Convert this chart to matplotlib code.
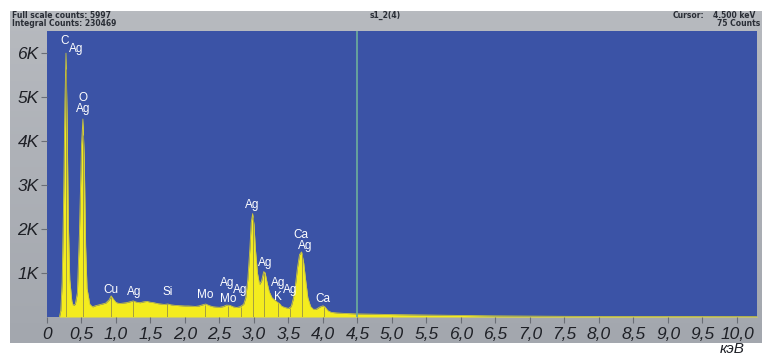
import numpy as np
import matplotlib
matplotlib.use("Agg")
from matplotlib import pyplot as plt

# spectrum (energy in keV, counts)
energy = [0.18, 0.20, 0.22, 0.24, 0.26, 0.275, 0.29, 0.31, 0.33, 0.36, 0.38, 0.41,
          0.44, 0.47, 0.50, 0.52, 0.54, 0.56, 0.58, 0.62, 0.66, 0.70, 0.75, 0.80,
          0.85, 0.90, 0.93, 0.96, 1.00, 1.05, 1.10, 1.15, 1.20, 1.25, 1.30, 1.35,
          1.40, 1.45, 1.50, 1.55, 1.60, 1.65, 1.70, 1.75, 1.80, 1.85, 1.90, 1.95,
          2.00, 2.05, 2.10, 2.15, 2.20, 2.25, 2.30, 2.35, 2.40, 2.45, 2.50, 2.55,
          2.60, 2.65, 2.70, 2.75, 2.80, 2.85, 2.88, 2.91, 2.94, 2.96, 2.98, 3.00,
          3.02, 3.05, 3.08, 3.11, 3.14, 3.16, 3.19, 3.22, 3.26, 3.30, 3.34, 3.37,
          3.40, 3.45, 3.50, 3.54, 3.57, 3.60, 3.63, 3.66, 3.69, 3.72, 3.75, 3.78,
          3.82, 3.86, 3.90, 3.95, 4.00, 4.03, 4.07, 4.12, 4.20, 4.30, 4.40, 4.50,
          4.70, 5.00, 5.50, 6.00, 6.50, 7.00, 7.50, 8.00, 9.00, 10.30]
counts = [0, 150, 800, 2600, 4900, 5997, 4600, 2100, 850, 360, 260, 290,
          550, 1900, 3900, 4500, 3600, 1600, 650, 290, 230, 255, 275, 295,
          315, 390, 480, 410, 330, 305, 315, 325, 345, 365, 335, 325,
          345, 355, 335, 325, 305, 295, 285, 295, 275, 265, 260, 255,
          250, 250, 245, 240, 250, 275, 295, 260, 235, 225, 220, 235,
          270, 265, 230, 215, 235, 290, 440, 850, 1550, 2150, 2350, 2100,
          1550, 1000, 740, 820, 1030, 1010, 780, 580, 440, 385, 335, 305,
          245, 215, 195, 240, 420, 720, 1120, 1420, 1480, 1230, 820, 440,
          240, 175, 175, 225, 255, 225, 145, 105, 92, 82, 76, 70,
          65, 55, 45, 35, 25, 20, 15, 12, 10, 8]

# element marker lines (keV)
marker_e = [0.277, 0.525, 0.93, 1.25, 1.74, 2.29, 2.62, 2.81, 2.98, 3.15, 3.35, 3.52, 3.69, 4.01]

# peak labels: text, energy, counts
labels = [("C", 0.25, 6270), ("Ag", 0.42, 6100), ("O", 0.52, 4980), ("Ag", 0.52, 4730),
          ("Cu", 0.93, 610), ("Ag", 1.26, 570), ("Si", 1.75, 570), ("Mo", 2.30, 500),
          ("Ag", 2.61, 770), ("Mo", 2.62, 410), ("Ag", 2.80, 610), ("Ag", 2.98, 2545),
          ("Ag", 3.16, 1230), ("Ag", 3.35, 770), ("K", 3.35, 455), ("Ag", 3.52, 610),
          ("Ca", 3.68, 1860), ("Ag", 3.74, 1610), ("Ca", 4.00, 410)]

xticks = [0, 0.5, 1.0, 1.5, 2.0, 2.5, 3.0, 3.5, 4.0, 4.5, 5.0, 5.5, 6.0, 6.5,
          7.0, 7.5, 8.0, 8.5, 9.0, 9.5, 10.0]
xticklabels = ["0"] + [f"{v:.1f}".replace(".", ",") for v in xticks[1:]]
yticks = [1000, 2000, 3000, 4000, 5000, 6000]
yticklabels = ["1K", "2K", "3K", "4K", "5K", "6K"]

W, H = 762, 355
fig = plt.figure(figsize=(W / 100, H / 100), dpi=100, facecolor="white")

# grey panel behind everything
bg = fig.add_axes([10 / W, 12 / H, 752 / W, 332 / H])
grad = np.linspace(0, 1, 100)[:, None]
bg.imshow(grad, aspect="auto", cmap=matplotlib.colors.LinearSegmentedColormap.from_list(
    "g", ["#b7babf", "#a3a7ae"]), extent=[0, 1, 0, 1], origin="upper")
bg.set_axis_off()

hdr = dict(fontsize=5.5, fontweight="bold", color="#2a2e36", family="DejaVu Sans")
fig.text(12 / W, 1 - 15 / H, "Full scale counts: 5997", va="center", **hdr)
fig.text(12 / W, 1 - 24 / H, "Integral Counts: 230469", va="center", **hdr)
fig.text(385 / W, 1 - 15 / H, "s1_2(4)", va="center", ha="center", **hdr)
fig.text(673 / W, 1 - 15 / H, "Cursor:", va="center", **hdr)
fig.text(713 / W, 1 - 15 / H, "4.500 keV", va="center", **hdr)
fig.text(760 / W, 1 - 24 / H, "75 Counts", va="center", ha="right", **hdr)

ax = fig.add_axes([47 / W, 38 / H, 710 / W, 286 / H])
ax.set_facecolor("#3b53a6")
ax.fill_between(energy, counts, 0, color="#f4ec1e", lw=0)
ax.plot(energy, counts, color="#cfc83a", lw=0.6)
ax.vlines(marker_e, 0, np.interp(marker_e, energy, counts) * 0.97,
          color="#8f8b4a", lw=0.7, alpha=0.8)
ax.axvline(4.5, color="#6aa89c", lw=1.3)

for txt, e, c in labels:
    ax.text(e, c, txt, color="white", fontsize=8.5, ha="center", va="center",
            family="Liberation Sans")

ax.set_xlim(0, 10.29)
ax.set_ylim(0, 6500)
ax.set_xticks(xticks)
ax.set_xticklabels(xticklabels)
ax.set_yticks(yticks)
ax.set_yticklabels(yticklabels)
for lab in ax.get_xticklabels() + ax.get_yticklabels():
    lab.set_fontstyle("italic")
    lab.set_family("Liberation Sans")
    lab.set_fontsize(12.5)
    lab.set_color("#1e2026")
ax.tick_params(axis="both", length=4, width=0.8, color="#6a6e76", pad=2)
ax.tick_params(axis="x", pad=3)
for s in ax.spines.values():
    s.set_visible(False)

fig.text(745 / W, 1 - 349 / H, "кэВ", ha="right", va="center", fontsize=11,
         fontstyle="italic", family="Liberation Sans", color="#1e2026")

fig.savefig("out.png", dpi=100, facecolor="white")
